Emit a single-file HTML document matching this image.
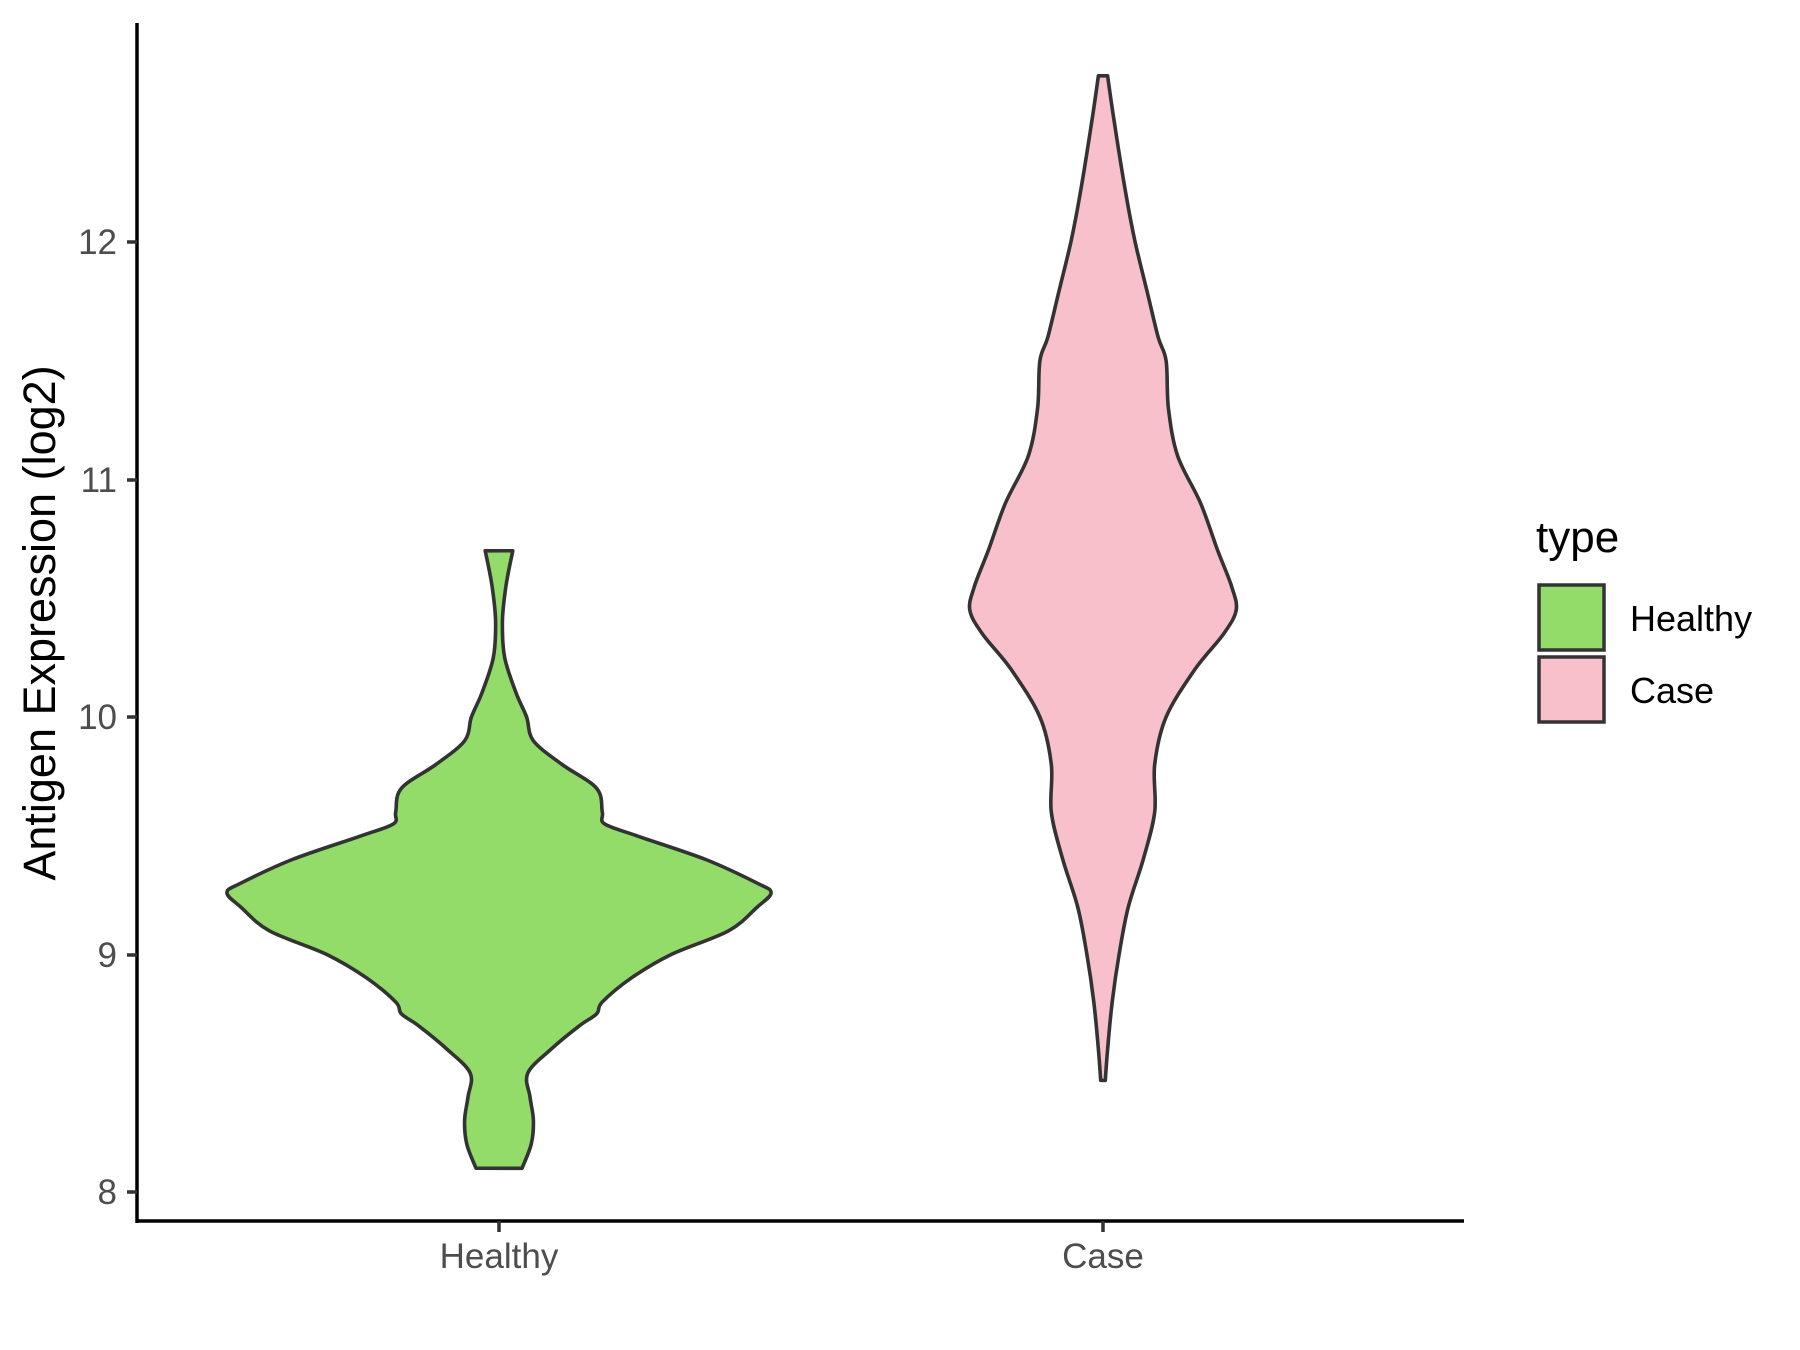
<!DOCTYPE html>
<html><head><meta charset="utf-8"><style>
html,body{margin:0;padding:0;background:#fff}
svg{display:block}
text{font-family:"Liberation Sans",Arial,sans-serif}
</style></head><body>
<svg id="s" width="1800" height="1350" viewBox="0 0 1800 1350" xmlns="http://www.w3.org/2000/svg">
<rect width="1800" height="1350" fill="#fff"/>
<path id="h" fill="#93DC69" stroke="#333" stroke-width="3.6" stroke-linejoin="round"/>
<path id="c" fill="#F8C0CB" stroke="#333" stroke-width="3.6" stroke-linejoin="round"/>
<line x1="137" y1="23" x2="137" y2="1223" stroke="#000" stroke-width="3.5"/>
<line x1="136" y1="1221" x2="1464" y2="1221" stroke="#000" stroke-width="3.5"/>
<g stroke="#333" stroke-width="3.5">
<line x1="127" y1="242" x2="137" y2="242"/><line x1="127" y1="480" x2="137" y2="480"/>
<line x1="127" y1="717" x2="137" y2="717"/><line x1="127" y1="955" x2="137" y2="955"/>
<line x1="127" y1="1192" x2="137" y2="1192"/>
<line x1="499" y1="1221" x2="499" y2="1232"/><line x1="1103" y1="1221" x2="1103" y2="1232"/>
</g>
<g fill="#4d4d4d" font-size="35" text-anchor="end">
<text x="117" y="254">12</text><text x="117" y="492">11</text><text x="117" y="729">10</text>
<text x="117" y="967">9</text><text x="117" y="1204">8</text>
</g>
<g fill="#4d4d4d" font-size="35" text-anchor="middle">
<text x="499" y="1268">Healthy</text><text x="1103" y="1268">Case</text>
</g>
<text transform="translate(55,623) rotate(-90)" text-anchor="middle" font-size="45" fill="#000">Antigen Expression (log2)</text>
<text x="1536" y="552" font-size="44" fill="#000">type</text>
<rect x="1539" y="585" width="65" height="65" fill="#93DC69" stroke="#333" stroke-width="3.5"/>
<rect x="1539" y="657" width="65" height="65" fill="#F8C0CB" stroke="#333" stroke-width="3.5"/>
<text x="1630" y="631" font-size="36" fill="#000">Healthy</text>
<text x="1630" y="703" font-size="36" fill="#000">Case</text>
</svg>
<script>
function Y(v){return 1192-(v-8)*237.5;}
var H=[[10.7,12],[10.55,6],[10.4,3],[10.25,5],[10.1,15],[10,24],[9.9,30],[9.8,55],[9.7,85],[9.6,90],[9.55,92],[9.5,120],[9.4,180],[9.3,225],[9.26,237],[9.2,225],[9.1,200],[9,150],[8.9,115],[8.8,90],[8.75,85],[8.7,70],[8.6,45],[8.5,25],[8.4,27],[8.3,30],[8.2,28],[8.1,20]];
var C=[[12.7,4],[12.5,10],[12.2,20],[12,28],[11.8,38],[11.6,48],[11.5,55],[11.3,57],[11.1,65],[10.9,85],[10.7,100],[10.55,112],[10.45,116],[10.35,105],[10.2,80],[10,55],[9.8,45],[9.6,45],[9.4,35],[9.2,22],[9,14],[8.8,8],[8.6,4],[8.47,2]];
function side(pts,cx,sgn){return pts.map(function(p){return [cx+sgn*p[1]/0.871,Y(p[0])];});}
function cr(p){var d="";for(var i=0;i<p.length-1;i++){var p0=p[Math.max(0,i-1)],p1=p[i],p2=p[i+1],p3=p[Math.min(p.length-1,i+2)];
d+=" C"+(p1[0]+(p2[0]-p0[0])/6).toFixed(1)+","+(p1[1]+(p2[1]-p0[1])/6).toFixed(1)+" "+(p2[0]-(p3[0]-p1[0])/6).toFixed(1)+","+(p2[1]-(p3[1]-p1[1])/6).toFixed(1)+" "+p2[0].toFixed(1)+","+p2[1].toFixed(1);}return d;}
function vio(pts,cx){var r=side(pts,cx,1),l=side(pts,cx,-1).reverse();
return "M"+r[0][0]+","+r[0][1]+cr(r)+" L"+l[0][0]+","+l[0][1]+cr(l)+" Z";}
document.getElementById("h").setAttribute("d",vio(H,499));
document.getElementById("c").setAttribute("d",vio(C,1103));
</script>
</body></html>
